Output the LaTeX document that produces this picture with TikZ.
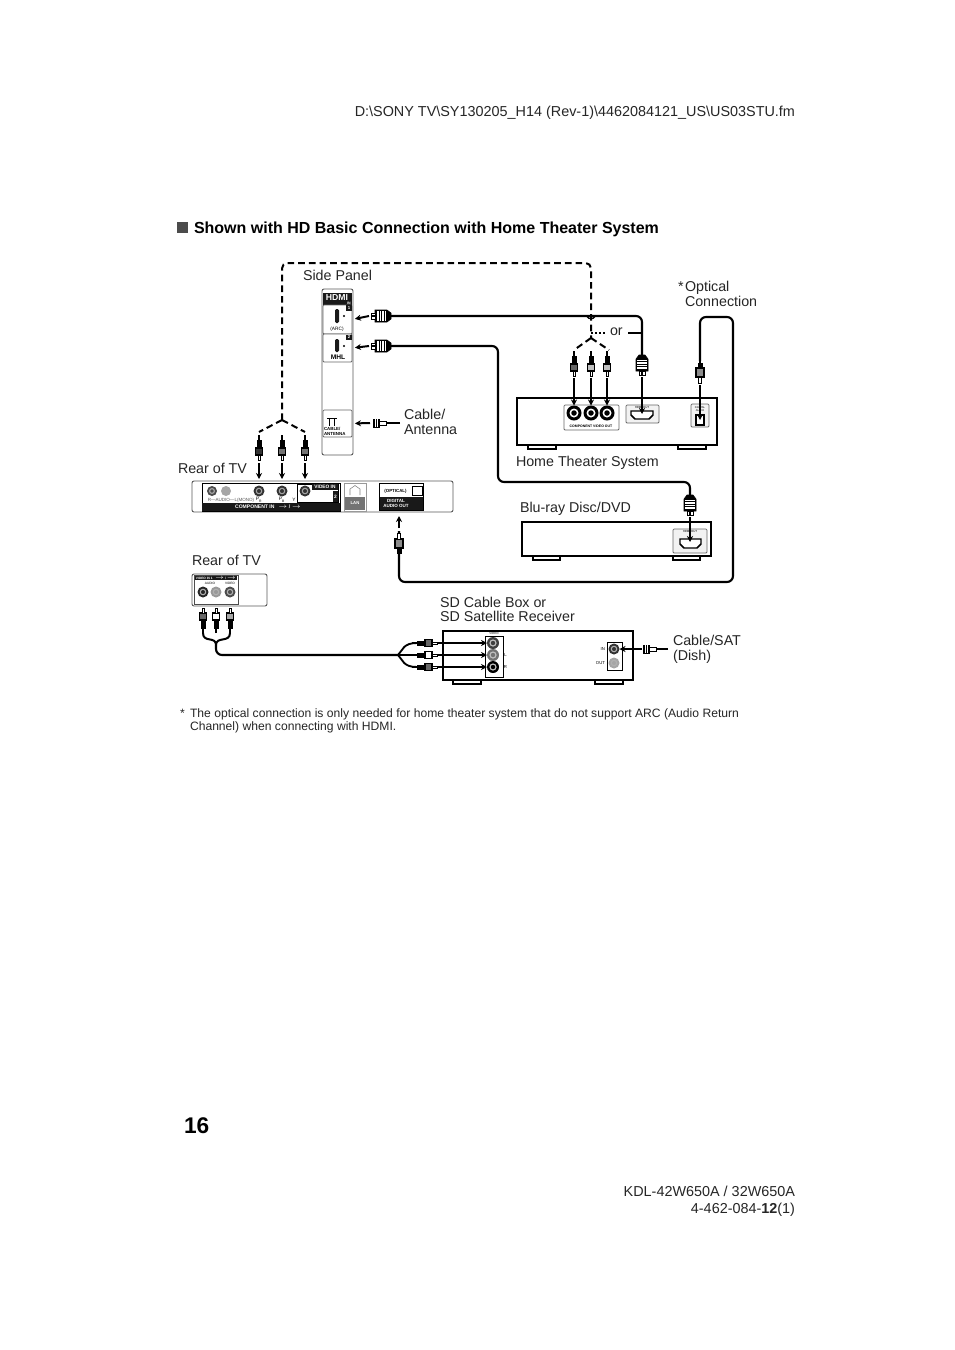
\documentclass[tikz,border=0pt]{standalone}
\usepackage{fontspec}
\setmainfont{Liberation Sans}
\usetikzlibrary{arrows.meta}
\newcommand\boxat[6][]{%
  \pgfmathsetmacro\bxx{(#3+#5)/2}\pgfmathsetmacro\bxy{(#4+#6)/2}%
  \pgfmathsetmacro\bxw{abs(#5-#3)*0.75}\pgfmathsetmacro\bxh{abs(#6-#4)*0.75}%
  \node[shape=rectangle,inner sep=0pt,outer sep=0pt,minimum width=\bxw pt,minimum height=\bxh pt,#1] (#2) at (\bxx,\bxy) {};}
\def\ringc{white}
\newcommand\jack[5][black]{% colour, name, x, y, r
  \node[circle,fill=#1,inner sep=0pt,outer sep=0pt,minimum size=#5*1.5pt] (#2) at (#3,#4) {};
  \node[circle,fill=\ringc,inner sep=0pt,minimum size=#5*0.9pt] (#2r) at (#3,#4) {};
  \node[circle,fill=#1,inner sep=0pt,minimum size=#5*0.55pt] (#2c) at (#3,#4) {};}
\tikzset{
  x=0.75pt,y=-0.75pt,
  lbl/.style={anchor=base west,inner sep=0pt,outer sep=0pt,font=\fontsize{10.7}{12.8}\selectfont,text=black!85},
  rlbl/.style={lbl,anchor=base east},
  tiny/.style={inner sep=0pt,outer sep=0pt,font=\fontsize{3.2}{3.4}\selectfont,align=center},
  tinyb/.style={tiny,text=white,font=\fontsize{3.2}{3.4}\bfseries\selectfont},
  device/.style={draw=black,line width=1.5pt,fill=white},
  foot/.style={draw=black,line width=0.9pt,fill=white},
  panel/.style={draw=black!65,line width=0.7pt,fill=white,rounded corners=1.5pt},
  port/.style={draw=black!60,line width=0.6pt,fill=white,rounded corners=0.8pt},
  blk/.style={fill=black!90,draw=none},
  cable/.style={line width=1.6pt,draw=black,rounded corners=4.5pt},
  dashcable/.style={line width=1.5pt,draw=black,dash pattern=on 5pt off 3pt,rounded corners=4pt},
  fork/.style={line width=1.5pt,draw=black,dash pattern=on 5pt off 3pt},
  into/.style={line width=1.5pt,draw=black,-{Stealth[length=4.5pt,width=4.5pt]}},
  pics/rca/.style={code={
    \draw[line width=1.5pt] (0,0) -- (0,5);
    \draw[fill=black,line width=.4pt] (-2.2,5) rectangle (2.2,13);
    \draw[fill=#1,line width=.8pt] (-3.4,13) rectangle (3.4,20);
    \draw[fill=white,line width=.5pt] (-1,20) rectangle (1,25);
  }},
  pics/hdmiplug/.style={code={
    \draw[fill=black,line width=.4pt] (-3,0) -- (3,0) -- (6,4) -- (6,16) -- (-6,16) -- (-6,4) -- cycle;
    \foreach \r in {5.5,8,10.5,13}{\draw[white,line width=1pt] (-5,\r) -- (5,\r);}
    \draw[fill=white,line width=.7pt] (-3,16) rectangle (3,20);
    \draw[line width=.8pt] (0,16) -- (0,20);
  }},
  pics/optplug/.style={code={
    \draw[line width=1.5pt] (0,0) -- (0,3);
    \draw[fill=black,line width=.4pt] (-2,3) rectangle (2,8);
    \draw[fill=black!45,line width=.8pt] (-4,8) rectangle (4,17);
    \draw[fill=white,line width=.6pt] (-1.5,17) rectangle (1.5,23);
  }},
  pics/coax/.style={code={
    \draw[fill=white,line width=.7pt] (-2,0) rectangle (2,7);
    \draw[fill=black,line width=.5pt] (-4,7) rectangle (4,13);
    \foreach \r in {9,11}{\draw[white,line width=.3pt] (-4,\r) -- (4,\r);}
  }},
}
\begin{document}
\begin{tikzpicture}
\useasboundingbox (0,0) rectangle (954,1350);
\fill[white] (0,0) rectangle (954,1350);
%% page texts
\node[rlbl,font=\fontsize{10.8}{12}\selectfont] (hdr) at (795,116) {D:\textbackslash SONY TV\textbackslash SY130205\_H14 (Rev-1)\textbackslash 4462084121\_US\textbackslash US03STU.fm};
\boxat[fill=black!70]{sq}{177}{222}{188}{233}
\node[lbl,font=\fontsize{12}{14}\bfseries\selectfont,text=black] (title) at (194,233) {Shown with HD Basic Connection with Home Theater System};
\node[lbl] (tside) at (303,280) {Side Panel};
\node[lbl] (tstar) at (678,291) {*};
\node[lbl] (topt1) at (685,291) {Optical};
\node[lbl] (topt2) at (685,306) {Connection};
\node[lbl] (tor) at (610,335) {or};
\node[lbl] (tcab1) at (404,419) {Cable/};
\node[lbl] (tcab2) at (404,434) {Antenna};
\node[lbl] (trear1) at (178,473) {Rear of TV};
\node[lbl] (tht) at (516,466) {Home Theater System};
\node[lbl] (tblu) at (520,512) {Blu-ray Disc/DVD};
\node[lbl] (trear2) at (192,565) {Rear of TV};
\node[lbl] (tsd1) at (440,607) {SD Cable Box or};
\node[lbl] (tsd2) at (440,621) {SD Satellite Receiver};
\node[lbl] (tsat1) at (673,645) {Cable/SAT};
\node[lbl] (tsat2) at (673,660) {(Dish)};
\node[lbl,font=\fontsize{9.1}{10}\selectfont] (fnstar) at (180,717) {*};
\node[lbl,font=\fontsize{9.1}{10}\selectfont] (fn1) at (190,717) {The optical connection is only needed for home theater system that do not support ARC (Audio Return};
\node[lbl,font=\fontsize{9.1}{10}\selectfont] (fn2) at (190,730) {Channel) when connecting with HDMI.};
\node[lbl,font=\fontsize{17}{19}\bfseries\selectfont,text=black] (pg) at (184,1133) {16};
\node[rlbl,font=\fontsize{10.8}{13}\selectfont] (kdl) at (795,1196) {KDL-42W650A / 32W650A};
\node[rlbl,font=\fontsize{10.8}{13}\selectfont] (num) at (795,1213) {4-462-084-\textbf{12}(1)};

%% side panel
\boxat[panel]{side}{322}{289}{353}{455}
\boxat[blk]{sidehd}{323}{293}{352}{305}
\node[tinyb,font=\fontsize{6.5}{6.5}\bfseries\selectfont] (sidehdmi) at (337,298) {HDMI};
\node[tinyb,font=\fontsize{2.6}{3}\bfseries\selectfont] (sidein) at (349,303.3) {IN};
\boxat[port]{s1}{323}{305}{352}{334}
\boxat[port]{s2}{323}{334}{352}{362}
\boxat[blk]{s1n}{346}{305}{352}{311}
\node[tinyb] (s1t) at (349,308) {1};
\boxat[blk]{s2n}{346}{335}{352}{340}
\node[tinyb] (s2t) at (349,337.5) {2};
\boxat[blk,rounded corners=1pt]{s1p}{335}{309}{339}{323}
\boxat[blk,rounded corners=1pt]{s2p}{335}{339}{339}{352}
\fill (344,316) circle (0.8pt) (344,346) circle (0.8pt);
\node[tiny,font=\fontsize{3.6}{4}\selectfont] (s1l) at (337,329) {(ARC)};
\node[tiny,font=\fontsize{5}{5}\bfseries\selectfont] (s2l) at (338,357.5) {MHL};
\boxat[port]{sant}{323}{410}{352}{437}
\node[tiny,align=left,anchor=west,font=\fontsize{3.3}{3.5}\bfseries\selectfont] (santl) at (324,431.5) {CABLE/\\ANTENNA};
\draw[line width=.6pt] (327,418.5) -- (337,418.5) (329.5,418.5) -- (329.5,426) (334.5,418.5) -- (334.5,426);

%% rear of TV 1
\boxat[panel]{tv}{192}{481}{453}{512}
\boxat[draw=black,line width=.6pt,fill=white]{comp}{202}{483}{340}{511}
\boxat[blk]{compbar}{202}{503}{340}{511}
\node[tinyb,font=\fontsize{3.8}{4}\bfseries\selectfont] (compt) at (268,507) {COMPONENT IN \enspace $\rightarrow$ / $\rightarrow$};
\def\ringc{black!35}
\jack[black!70]{pr}{212}{491}{5}
\jack[black!35]{pl}{226}{491}{5}
\jack[black!80]{ppr}{259}{491}{5.5}
\jack[black!80]{ppb}{282}{491}{5.5}
\jack[black!80]{py}{305}{491}{5.5}
\def\ringc{white}
\node[tiny,text=black!65,font=\fontsize{3.4}{4}\selectfont] (tvaud) at (231,500) {R—AUDIO—L(MONO)};
\node[tiny,font=\fontsize{3.6}{4}\selectfont] (tvpr) at (259,500) {P\textsubscript{R}};
\node[tiny,font=\fontsize{3.6}{4}\selectfont] (tvpb) at (282,500) {P\textsubscript{B}};
\node[tiny,font=\fontsize{3.6}{4}\selectfont] (tvy) at (294,500) {Y};
\boxat[draw=black,line width=.7pt]{vid2}{297}{484}{338}{502}
\boxat[blk]{vidhd}{312}{484}{338}{490}
\node[tinyb,font=\fontsize{3.6}{4}\bfseries\selectfont] (vidt) at (325,487) {VIDEO IN};
\boxat[blk]{vidn}{333}{491}{338}{502}
\node[tinyb,font=\fontsize{3.6}{4}\bfseries\selectfont] (vidnt) at (335.5,497) {2};
\boxat[draw=black!40,line width=.5pt,fill=white]{lan}{344}{483}{366}{511}
\boxat[fill=black!55]{lanb}{345}{497}{365}{510}
\draw[black!50,line width=.4pt] (350,495) -- (350,489) -- (355,485.5) -- (360,489) -- (360,495);
\node[tinyb,font=\fontsize{3.2}{3.4}\bfseries\selectfont] (lant) at (355,503) {LAN};
\boxat[draw=black,line width=.6pt,fill=white]{opt}{379}{483}{423}{510}
\boxat[blk]{optb}{380}{497}{423}{510}
\node[tiny,font=\fontsize{3.3}{3.5}\bfseries\selectfont] (optt) at (395.5,491) {(OPTICAL)};
\node[tinyb,font=\fontsize{3.4}{3.9}\bfseries\selectfont] (optd) at (396,503.5) {DIGITAL\\AUDIO OUT};
\boxat[draw=black,line width=.5pt,fill=white]{optsq}{412}{486}{422}{495}

%% rear of TV 2
\boxat[panel]{tv2}{192}{574}{267}{606}
\boxat[draw=black!70,line width=.5pt]{tv2in}{194}{575}{238}{604}
\boxat[blk]{tv2h}{195}{576}{237}{580}
\node[tinyb,font=\fontsize{2.4}{2.6}\bfseries\selectfont] (tv2t) at (216,578) {VIDEO IN 1 \enspace $\rightarrow$ / $\rightarrow$};
\def\ringc{black!30}
\jack[black!85]{t2y}{203}{592}{5.5}
\jack[black!40]{t2w}{216}{592}{5.5}
\jack[black!70]{t2r}{230}{592}{5.5}
\def\ringc{white}
\node[tiny,font=\fontsize{2.4}{2.6}\selectfont] (t2a) at (210,583) {AUDIO};
\node[tiny,font=\fontsize{2.4}{2.6}\selectfont] (t2v) at (230,583) {VIDEO};

%% home theater
\boxat[foot]{htf1}{528}{445}{556}{449}
\boxat[foot]{htf2}{678}{445}{706}{449}
\boxat[device]{ht}{517}{398}{717}{445}
\boxat[port]{htc}{564}{405}{619}{430}
\jack{hta}{574}{413}{7.5}
\jack{htb}{591}{413}{7.5}
\jack{htd}{607}{413}{7.5}
\node[tiny,font=\fontsize{2.6}{3}\bfseries\selectfont] (htct) at (591,426.5) {COMPONENT VIDEO OUT};
\boxat[port,fill=black!5]{hth}{626}{405}{659}{423}
\node[tiny,font=\fontsize{2.2}{3}\selectfont] (hthl) at (642,407.5) {HDMI OUT};
\draw[line width=1.1pt,fill=white] (631,411) -- (653,411) -- (653,415) -- (649,419) -- (635,419) -- (631,415) -- cycle;
\coordinate (hthin) at (642,414);
\boxat[port,fill=black!5]{hto}{691}{404}{709}{427}
\node[tiny,font=\fontsize{2}{2.5}\selectfont] (htol) at (700,409) {DIGITAL\\AUDIO};
\boxat[draw=black,line width=.8pt,fill=white]{htos}{696}{415}{704}{425}
\coordinate (htoin) at (700,420);

%% blu-ray
\boxat[foot]{brf1}{533}{556}{560}{560}
\boxat[foot]{brf2}{673}{556}{700}{560}
\boxat[device]{br}{522}{522}{711}{556}
\boxat[port,fill=black!5]{brh}{673}{529}{707}{553}
\node[tiny,font=\fontsize{2.2}{3}\selectfont] (brhl) at (690,531.5) {HDMI OUT};
\draw[line width=1.1pt,fill=white] (680,539) -- (701,539) -- (701,544) -- (697,548) -- (684,548) -- (680,544) -- cycle;
\coordinate (brin) at (690,542);

%% SD box
\boxat[foot]{sdf1}{453}{680}{481}{684}
\boxat[foot]{sdf2}{595}{680}{623}{684}
\boxat[device]{sd}{443}{631}{633}{680}
\boxat[draw=black,line width=.6pt,fill=white]{sdv}{485}{636}{503}{677}
\def\ringc{black!25}
\jack[black!75]{sda}{493}{643}{6}
\jack[black!55]{sdb}{493}{655}{6}
\jack{sdc}{493}{667}{6}
\def\ringc{white}
\node[tiny,font=\fontsize{2.2}{3}\selectfont] (sdvt) at (494,633.5) {VIDEO};
\node[tiny] (sdl) at (505.5,655) {L};
\node[tiny] (sdr) at (505.5,667) {R};
\boxat[draw=black,line width=.6pt,fill=white]{sdi}{607}{642}{622}{670}
\def\ringc{black!30}
\jack[black!80]{sdin}{614}{649}{5.5}
\jack[black!35]{sdout}{614}{663}{5.5}
\def\ringc{white}
\node[tiny,anchor=east] (sdit) at (605,649) {IN};
\node[tiny,anchor=east] (sdot) at (605,663) {OUT};

%% coordinates
\coordinate (ajoin) at (282,420);
\coordinate (ajl) at (259,432);
\coordinate (ajr) at (305,432);
\coordinate (bjoin) at (591,338);
\coordinate (bjl) at (574,350);
\coordinate (bjr) at (609,350);
\coordinate (dota) at (591,333);
\coordinate (dotb) at (606,333);
\coordinate (orl) at (628,333);
\coordinate (orr) at (642,333);
\coordinate (h1s) at (390,316);
\coordinate (h1e) at (642,356);
\coordinate (h2s) at (390,346);
\coordinate (h2e) at (690,496);
\coordinate (o1s) at (700,361);
\coordinate (o2s) at (399,531);
\coordinate (optarr) at (399,516);

%% HDMI cables
\draw[cable] (h1s) -- (642,316) -- (h1e);
\draw[line width=1pt] (587,316.5) .. controls (589,319.5) and (593,319.5) .. (595,316.5);
\draw[line width=1.6pt] (orl) -- (orr);
\draw[cable] (h2s) -- (498,346) -- (498,482) -- (690,482) -- (h2e);
%% optical cable
\draw[cable] (o1s) -- (700,317) -- (733,317) -- (733,582) -- (399,582) -- (o2s);

%% dashed component cable
\draw[dashcable] (ajoin) -- (282,263) -- (591,263) -- (bjoin);
\draw[fork] (ajoin) -- (ajl);
\draw[fork] (ajoin) -- (ajr);
\draw[fork] (bjoin) -- (bjl);
\draw[fork] (bjoin) -- (bjr);
\draw[line width=1.5pt,dash pattern=on 1.5pt off 1.5pt] (dota) -- (dotb);

%% plugs and arrows into side panel
\pic[rotate=-90] at (391,316) {hdmiplug};
\pic[rotate=-90] at (391,346) {hdmiplug};
\draw[into,shorten >=2.2pt] (369,316) -- (s1.east);
\draw[into,shorten >=2.2pt] (369,346) -- (s2.east);
\coordinate (antc) at (400,423);
\draw[line width=1.5pt] (antc) -- (386,423);
\pic[rotate=-90] at (386,423) {coax};
\draw[into,shorten >=2.2pt] (370,423) -- (sant.east);

%% plugs above TV
\foreach \x/\c/\t in {259/black!80/ppr,282/black!55/ppb,305/black!55/py}{
  \pic at (\x,435) {rca=\c};
  \draw[into,shorten >=1.5pt] (\x,463) -- (\t |- tv.north);
}
%% plugs above HT
\foreach \x/\c/\t in {574/black!60/hta,591/black!25/htb,607/black!25/htd}{
  \pic at (\x,351) {rca=\c};
  \draw[into] (\x,378) -- (\t);
}
\pic at (642,355) {hdmiplug};
\draw[into] (642,377) -- (hthin);
\pic at (700,360) {optplug};
\draw[into] (700,385) -- (htoin);
\pic at (690,495) {hdmiplug};
\draw[into] (690,517) -- (brin);
\pic[rotate=180] at (399,556) {optplug};
\draw[into] (399,528) -- (optarr);

%% SD composite cable
\coordinate (yf) at (216,645);
\coordinate (xf) at (398,655);
\draw[line width=1.5pt] (203,633) .. controls (203,643) and (216,636) .. (yf);
\draw[line width=1.5pt] (230,633) .. controls (230,643) and (216,636) .. (yf);
\draw[cable] (yf) -- (216,655) -- (xf);
\draw[line width=1.4pt] (xf) .. controls (403,650) and (403,643) .. (417,643);
\draw[line width=1.4pt] (xf) -- (417,655);
\draw[line width=1.4pt] (xf) .. controls (403,660) and (403,667) .. (417,667);
\pic[rotate=180] at (203,633) {rca=black!60};
\pic[rotate=180] at (216,633) {rca=white};
\pic[rotate=180] at (230,633) {rca=black!35};
\pic[rotate=90] at (412,643) {rca=black!60};
\pic[rotate=90] at (412,655) {rca=white};
\pic[rotate=90] at (412,667) {rca=black!60};
\draw[into] (438,643) -- (sda);
\draw[into] (438,655) -- (sdb);
\draw[into] (438,667) -- (sdc);
%% dish
\coordinate (dishc) at (668,649);
\draw[line width=1.5pt] (dishc) -- (656,649);
\pic[rotate=-90] at (656,649) {coax};
\draw[into] (642,649) -- (sdin);
\end{tikzpicture}
\end{document}
